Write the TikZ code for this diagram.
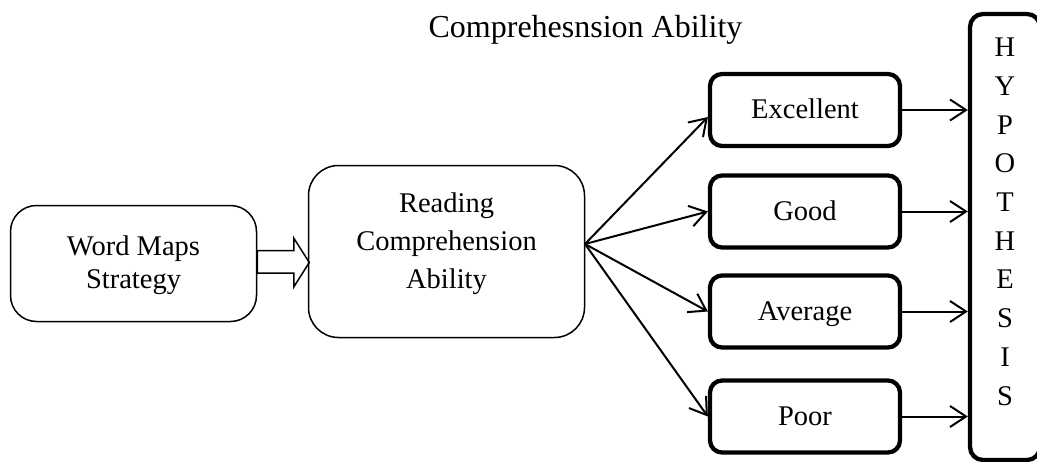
\documentclass[tikz,border=0pt]{standalone}
\usepackage{fontspec}
\setmainfont{Liberation Serif}
\usetikzlibrary{arrows.meta}
\begin{document}
\begin{tikzpicture}[x=1pt,y=-1pt,
  thinbox/.style={draw,line width=1.5pt,rounded corners=#1,inner sep=0pt},
  thickbox/.style={draw,line width=4.3pt,rounded corners=12pt,inner sep=0pt,
    minimum width=190pt,minimum height=72pt,
    font=\fontsize{28.5}{34}\selectfont,text height=20pt,text depth=3pt},
  txt/.style={align=center,inner sep=0pt},
  arr/.style={line width=2pt,-{Straight Barb[length=16pt,width=21pt,line width=2pt]}}]
\useasboundingbox (0,0) rectangle (1037,461);

% title
\node[txt,anchor=base,font=\fontsize{32}{38}\selectfont] (title) at (585.5,37) {Comprehesnsion Ability};

% left boxes
\node[thinbox=26pt,minimum width=246pt,minimum height=116pt] (wm) at (133.5,263.5) {};
\node[txt,font=\fontsize{28.5}{33}\selectfont] (wmtxt) at (133.5,265) {Word Maps\\Strategy};
\node[thinbox=30pt,minimum width=276pt,minimum height=172pt] (rd) at (446.5,251.5) {};
\node[txt,font=\fontsize{28.5}{38}\selectfont] (rdtxt) at (446.5,243.5) {Reading\\Comprehension\\Ability};

% hollow block arrow
\draw[line width=1.5pt,line join=miter] (wm.east) +(0,-13) -- +(36.5,-13) -- +(36.5,-25.5)
  -- +(52,-1) -- +(36.5,23.5) -- +(36.5,9.5) -- +(0,9.5) -- cycle;

% level boxes
\node[thickbox] (exc) at (805,110) {Excellent};
\node[thickbox] (good) at (805,211.5) {Good};
\node[thickbox] (avg) at (805,311.5) {Average};
\node[thickbox] (poor) at (805,416.5) {Poor};

% hypothesis box (runs past the right edge)
\node[draw,line width=4.3pt,rounded corners=13pt,minimum width=70pt,minimum height=446pt,inner sep=0pt] (hyp) at (1005,237) {};
\node[txt,font=\fontsize{28.5}{38.7}\selectfont] (hyptxt) at (1005,221.75) {H\\Y\\P\\O\\T\\H\\E\\S\\I\\S};

% fan of arrows
\coordinate (fan) at (585,244);
\draw[arr] (fan) -- ([yshift=-7pt]exc.west);
\draw[arr] (fan) -- (good.west);
\draw[arr] (fan) -- (avg.west);
\draw[arr] (fan) -- (poor.west);

% arrows into the hypothesis box
\foreach \b in {exc,good,avg,poor}
  \draw[arr] (\b.east) -- (\b.east -| hyp.west);
\end{tikzpicture}
\end{document}
